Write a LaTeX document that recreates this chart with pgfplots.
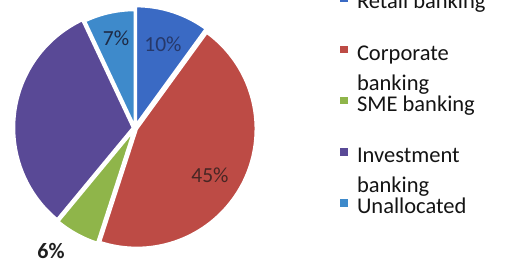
\documentclass[border=0pt]{standalone}
\usepackage{fontspec}
\setmainfont{Carlito}
\usepackage{pgfplots}
\usepackage{pgfplotstable}
\pgfplotsset{compat=1.18}
\definecolor{cRetail}{HTML}{3A6AC4}
\definecolor{cCorp}{HTML}{BD4B45}
\definecolor{cSME}{HTML}{8FB54A}
\definecolor{cInv}{HTML}{594996}
\definecolor{cUnal}{HTML}{3E8ACB}
\definecolor{tRetail}{HTML}{26386A}
\definecolor{tUnal}{HTML}{1E2A45}
\definecolor{tCorp}{HTML}{472624}
\pgfplotstableread{
name value
Retail 10
Corporate 45
SME 6
Investment 32
Unallocated 7
}\piedata
\pgfplotstablegetelem{0}{value}\of\piedata \let\vA\pgfplotsretval
\pgfplotstablegetelem{1}{value}\of\piedata \let\vB\pgfplotsretval
\pgfplotstablegetelem{2}{value}\of\piedata \let\vC\pgfplotsretval
\pgfplotstablegetelem{3}{value}\of\piedata \let\vD\pgfplotsretval
\pgfplotstablegetelem{4}{value}\of\piedata \let\vE\pgfplotsretval
\pgfmathsetmacro\aA{90}
\pgfmathsetmacro\aB{\aA-3.6*\vA}
\pgfmathsetmacro\aC{\aB-3.6*\vB}
\pgfmathsetmacro\aD{\aC-3.6*\vC}
\pgfmathsetmacro\aE{\aD-3.6*\vD}
\pgfmathsetmacro\aF{\aE-3.6*\vE}
\pgfmathsetmacro\mA{(\aA+\aB)/2}
\pgfmathsetmacro\mB{(\aB+\aC)/2}
\pgfmathsetmacro\mC{(\aC+\aD)/2}
\pgfmathsetmacro\mD{(\aD+\aE)/2}
\pgfmathsetmacro\mE{(\aE+\aF)/2}
\begin{document}
\begin{tikzpicture}
\useasboundingbox (0,0) rectangle (506pt,264pt);
\clip (0,0) rectangle (506pt,264pt);
\begin{axis}[anchor=south west, at={(0,0)}, x=1pt, y=1pt, scale only axis,
  xmin=0, xmax=506, ymin=0, ymax=264, hide axis, clip=false,
  legend cell align=left,
  legend image code/.code={\fill[#1, draw=none] (0pt,2pt) rectangle (7.5pt,9.5pt);},
  legend style={draw=none, fill=none, inner sep=0pt, outer sep=0pt,
    at={(0.67194,1.0265)}, anchor=north west,
    row sep=29.2pt, column sep=9.5pt,
    nodes={inner sep=0pt, text height=16pt, text depth=6pt,
      font=\fontsize{22.5}{30}\selectfont, text=black!92}},
]
\addlegendimage{fill=cRetail}\addlegendentry{Retail banking}
\addlegendimage{fill=cCorp}\addlegendentry{\smash{\parbox[t]{4cm}{Corporate\\banking}}}
\addlegendimage{fill=cSME}\addlegendentry{SME banking}
\addlegendimage{fill=cInv}\addlegendentry{\smash{\parbox[t]{4cm}{Investment\\banking}}}
\addlegendimage{fill=cUnal}\addlegendentry{Unallocated}

\fill[cRetail, draw=white, line width=2.5pt, shift={(\mA:3pt)}] (axis cs:135,136) -- +(\aA:119pt) arc[start angle=\aA, end angle=\aB, radius=119pt] -- cycle;
\fill[cCorp, draw=white, line width=2.5pt, shift={(\mB:2pt)}] (axis cs:135,136) -- +(\aB:119pt) arc[start angle=\aB, end angle=\aC, radius=119pt] -- cycle;
\fill[cSME, draw=white, line width=2.5pt, shift={(\mC:2pt)}] (axis cs:135,136) -- +(\aC:119pt) arc[start angle=\aC, end angle=\aD, radius=119pt] -- cycle;
\fill[cInv, draw=white, line width=2.5pt, shift={(\mD:2pt)}] (axis cs:135,136) -- +(\aD:119pt) arc[start angle=\aD, end angle=\aE, radius=119pt] -- cycle;
\fill[cUnal, draw=white, line width=2.5pt, shift={(\mE:1pt)}] (axis cs:135,136) -- +(\aE:117pt) arc[start angle=\aE, end angle=\aF, radius=117pt] -- cycle;

\node[font=\fontsize{21.5}{25}\selectfont, text=tRetail] at (axis cs:163,220) {10\%};
\node[font=\fontsize{21.5}{25}\selectfont, text=tUnal] at (axis cs:116,226) {7\%};
\node[font=\fontsize{21.5}{25}\selectfont, text=tCorp] at (axis cs:210,89) {45\%};
\node[font=\fontsize{22}{26}\selectfont\bfseries, text=black!88, inner sep=1pt] at (axis cs:51,13) {6\%};
\end{axis}
\end{tikzpicture}
\end{document}
